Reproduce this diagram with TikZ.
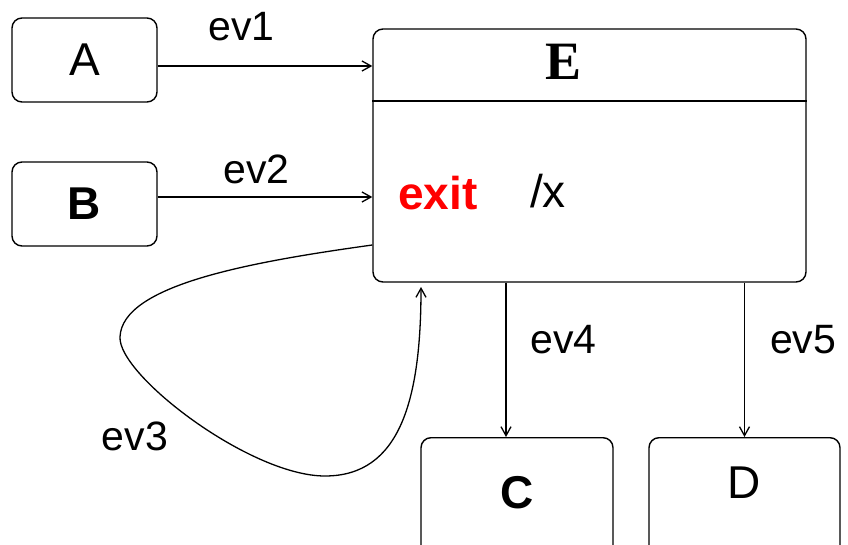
\documentclass[tikz,border=0pt]{standalone}
\usepackage{fontspec}
\setmainfont{Liberation Sans}
\newfontfamily\titlefont{Liberation Serif}
\usetikzlibrary{arrows.meta}
\definecolor{exitred}{RGB}{255,0,0}

\begin{document}
\begin{tikzpicture}[x=1pt, y=-1pt,
    state/.style={draw, line width=1.4pt, rounded corners=10pt, inner sep=0pt, font=\fontsize{46}{50}\selectfont},
    trans/.style={line width=1.3pt, -{Straight Barb[length=9pt,width=10pt]}},
    evlabel/.style={inner sep=0pt, font=\fontsize{41}{45}\selectfont}]

    \useasboundingbox (0,0) rectangle (848,545);
    \clip (0,0) rectangle (848,545);

    \node[state, minimum width=145pt, minimum height=84pt] (A) at (84.5,60) {A};
    \node[state, minimum width=145pt, minimum height=84pt] (B) at (84.5,204) {\bfseries B};
    \node[state, minimum width=433pt, minimum height=253pt] (E) at (589.5,155.5) {};
    \node[state, anchor=north, minimum width=192pt, text height=71pt, text depth=70pt] (C) at (517,437) {\bfseries C};
    \node[state, anchor=north, minimum width=191pt, text height=61pt, text depth=80pt] (D) at (744.5,437) {D};

    % E: title part and exit action
    \draw[line width=1.4pt] (E.west |- 0,101) -- (E.east |- 0,101);
    \node[inner sep=0pt, font=\titlefont\bfseries\fontsize{54}{58}\selectfont] (Etitle) at (564,62) {E};
    \node[anchor=base west, inner sep=0pt, font=\bfseries\fontsize{46}{50}\selectfont, text=exitred] (exit) at (398,210) {exit};
    \node[anchor=base west, inner sep=0pt, font=\fontsize{46}{50}\selectfont] (action) at (530,208) {/x};

    \draw[trans] ([yshift=-6pt]A.east) -- node[evlabel, pos=0.39, above=24pt] {ev1} ([yshift=-6pt]A.east -| E.west);
    \draw[trans] ([yshift=7pt]B.east) -- node[evlabel, pos=0.46, above=12pt] {ev2} ([yshift=7pt]B.east -| E.west);

    \draw[trans] (E.west |- 0,245) .. controls (250,262) and (122,285) .. (120,337)
        .. controls (118,375) and (250,476) .. (325,476)
        .. controls (400,476) and (421,400) .. (421,287);
    \node[evlabel, anchor=base] (ev3) at (135,450) {ev3};

    \draw[trans] (E.south -| 506,0) -- node[evlabel, pos=0.37, right=24pt] {ev4} (C.north -| 506,0);
    \draw[trans] (E.south -| D) -- node[evlabel, pos=0.37, right=25pt] {ev5} (D);

\end{tikzpicture}
\end{document}
